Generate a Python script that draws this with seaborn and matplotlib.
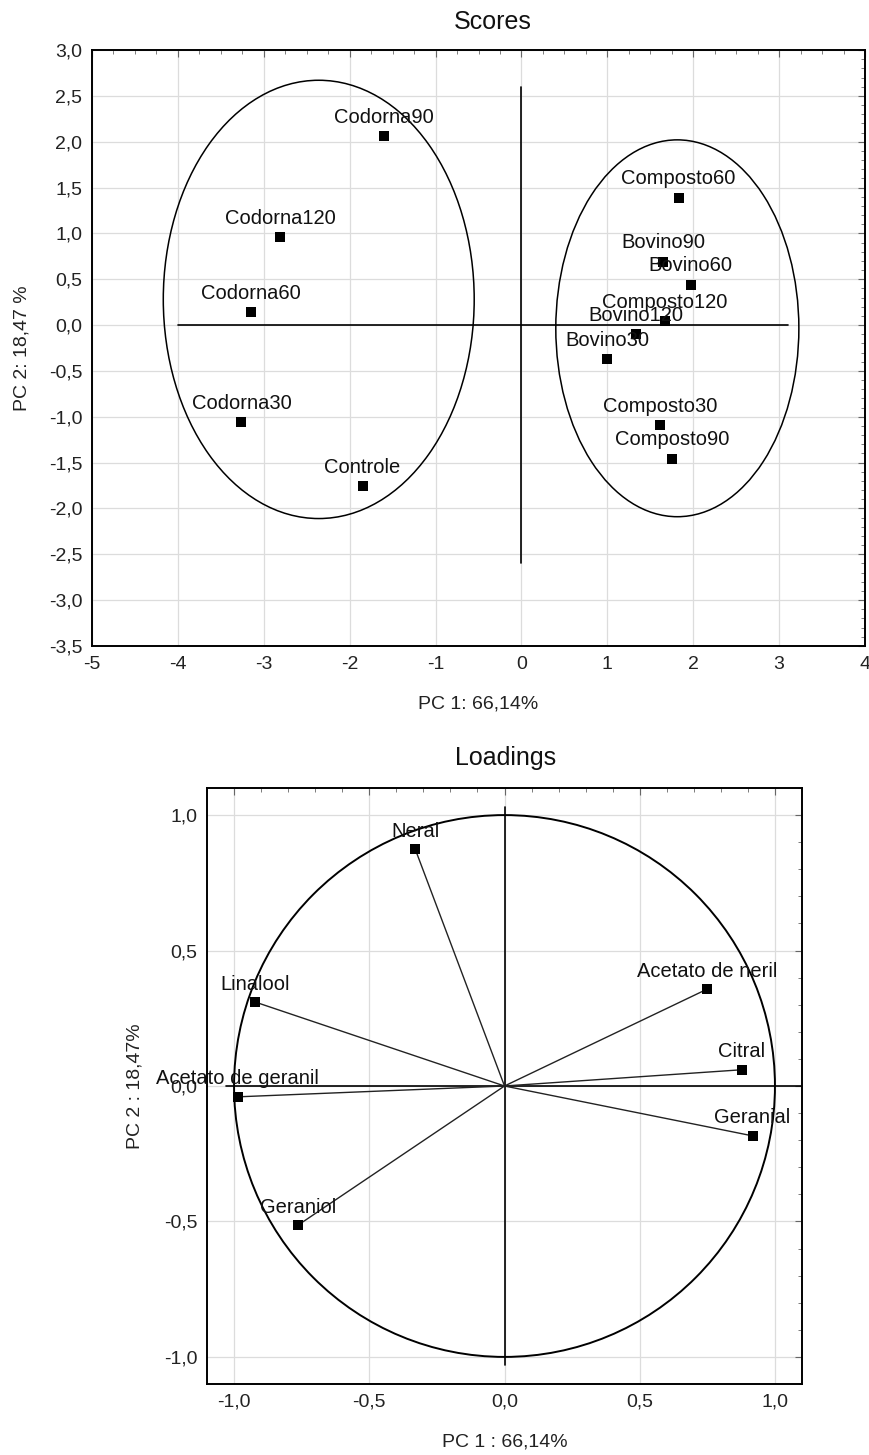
import matplotlib
matplotlib.use("Agg")
import matplotlib.pyplot as plt
from matplotlib.patches import Ellipse, Circle
from matplotlib.ticker import MultipleLocator, AutoMinorLocator, FuncFormatter
import seaborn as sns
import pandas as pd

# ---------------- data ----------------
score_names = ["Codorna90", "Codorna120", "Codorna60", "Codorna30", "Controle",
               "Composto60", "Bovino90", "Bovino60", "Composto120", "Bovino120",
               "Bovino30", "Composto30", "Composto90"]
score_pc1 = [-1.60, -2.81, -3.15, -3.26, -1.85,
             1.83, 1.65, 1.97, 1.67, 1.33,
             1.00, 1.61, 1.75]
score_pc2 = [2.06, 0.96, 0.14, -1.06, -1.76,
             1.39, 0.69, 0.44, 0.04, -0.10,
             -0.37, -1.09, -1.46]

# group ellipses: centre x, centre y, full width, full height
ellipse_cx = [-2.36, 1.815]
ellipse_cy = [0.28, -0.035]
ellipse_w = [3.62, 2.83]
ellipse_h = [4.78, 4.11]

load_names = ["Neral", "Linalool", "Acetato de geranil", "Geraniol",
              "Acetato de neril", "Citral", "Geranial"]
load_pc1 = [-0.33, -0.922, -0.986, -0.764, 0.748, 0.878, 0.917]
load_pc2 = [0.874, 0.31, -0.04, -0.514, 0.357, 0.06, -0.184]

scores_xlabel = "PC 1: 66,14%"
scores_ylabel = "PC 2: 18,47 %"
load_xlabel = "PC 1 : 66,14%"
load_ylabel = "PC 2 : 18,47%"

# ---------------- style ----------------
sns.set_style("white")
plt.rcParams["font.family"] = ["Liberation Sans", "DejaVu Sans"]

W, H = 869, 1455
fig = plt.figure(figsize=(W / 100, H / 100), dpi=100)

def px_rect(l, t, r, b):
    return [l / W, 1 - b / H, (r - l) / W, (b - t) / H]

ax1 = fig.add_axes(px_rect(92, 50, 865, 646))
ax2 = fig.add_axes(px_rect(207, 788, 802, 1384))

comma1 = FuncFormatter(lambda v, p: f"{v:.1f}".replace(".", ","))
intfmt = FuncFormatter(lambda v, p: f"{int(round(v))}")

def style_axes(ax):
    for s in ax.spines.values():
        s.set_visible(True)
        s.set_color("black")
        s.set_linewidth(1.4)
    ax.grid(True, which="major", color="#dcdcdc", linewidth=0.9)
    ax.set_axisbelow(True)
    ax.tick_params(which="both", direction="in", top=True, right=True,
                   colors="#666666", labelcolor="#222222", labelsize=14, pad=7)
    ax.tick_params(which="major", length=5, width=0.8)
    ax.tick_params(which="minor", length=3, width=0.6)

# ---------------- Scores ----------------
df_s = pd.DataFrame({"PC1": score_pc1, "PC2": score_pc2, "name": score_names})
style_axes(ax1)
ax1.set_xlim(-5, 4)
ax1.set_ylim(-3.5, 3.0)
ax1.xaxis.set_major_locator(MultipleLocator(1))
ax1.yaxis.set_major_locator(MultipleLocator(0.5))
ax1.xaxis.set_minor_locator(AutoMinorLocator(4))
ax1.yaxis.set_minor_locator(AutoMinorLocator(5))
ax1.xaxis.set_major_formatter(intfmt)
ax1.yaxis.set_major_formatter(comma1)

ax1.plot([-4.0, 3.1], [0, 0], color="black", lw=1.2, zorder=2)
ax1.plot([0, 0], [-2.6, 2.6], color="black", lw=1.2, zorder=2)
for cx, cy, w, h in zip(ellipse_cx, ellipse_cy, ellipse_w, ellipse_h):
    ax1.add_patch(Ellipse((cx, cy), w, h, fill=False, edgecolor="black", lw=1.1, zorder=2))

sns.scatterplot(data=df_s, x="PC1", y="PC2", ax=ax1, marker="s", s=45,
                color="black", edgecolor="black", linewidth=0, zorder=4, legend=False)
for n, x, y in zip(score_names, score_pc1, score_pc2):
    ax1.annotate(n, (x, y), xytext=(0, 19), textcoords="offset pixels",
                 ha="center", va="center", fontsize=14.5, color="#111111", zorder=5)

ax1.set_xlabel(scores_xlabel, fontsize=14, color="#222222")
ax1.set_ylabel(scores_ylabel, fontsize=14, color="#222222")
ax1.xaxis.set_label_coords(0.5, -58 / 596)
ax1.xaxis.label.set_va("center")
ax1.yaxis.set_label_coords((22 - 92) / 773, 0.5)
ax1.yaxis.label.set_va("center")
fig.text(493 / W, 1 - 22 / H, "Scores", ha="center", va="center", fontsize=18, color="#111111")

# ---------------- Loadings ----------------
df_l = pd.DataFrame({"PC1": load_pc1, "PC2": load_pc2, "name": load_names})
style_axes(ax2)
ax2.set_xlim(-1.1, 1.1)
ax2.set_ylim(-1.1, 1.1)
ax2.xaxis.set_major_locator(MultipleLocator(0.5))
ax2.yaxis.set_major_locator(MultipleLocator(0.5))
ax2.xaxis.set_minor_locator(AutoMinorLocator(5))
ax2.yaxis.set_minor_locator(AutoMinorLocator(5))
ax2.xaxis.set_major_formatter(comma1)
ax2.yaxis.set_major_formatter(comma1)

ax2.plot([-1.03, 1.1], [0, 0], color="black", lw=1.2, zorder=2)
ax2.plot([0, 0], [-1.03, 1.03], color="black", lw=1.2, zorder=2)
ax2.add_patch(Circle((0, 0), 1.0, fill=False, edgecolor="black", lw=1.4, zorder=2))
for x, y in zip(load_pc1, load_pc2):
    ax2.plot([0, x], [0, y], color="#222222", lw=1.0, zorder=3)

sns.scatterplot(data=df_l, x="PC1", y="PC2", ax=ax2, marker="s", s=45,
                color="black", edgecolor="black", linewidth=0, zorder=4, legend=False)
for n, x, y in zip(load_names, load_pc1, load_pc2):
    ax2.annotate(n, (x, y), xytext=(0, 18), textcoords="offset pixels",
                 ha="center", va="center", fontsize=14.5, color="#111111", zorder=5)

ax2.set_xlabel(load_xlabel, fontsize=14, color="#222222")
ax2.set_ylabel(load_ylabel, fontsize=14, color="#222222")
ax2.xaxis.set_label_coords(0.5, -58 / 596)
ax2.xaxis.label.set_va("center")
ax2.yaxis.set_label_coords((135 - 207) / 595, 0.5)
ax2.yaxis.label.set_va("center")
fig.text(506 / W, 1 - 758 / H, "Loadings", ha="center", va="center", fontsize=18, color="#111111")

fig.savefig("out.png", dpi=100)
